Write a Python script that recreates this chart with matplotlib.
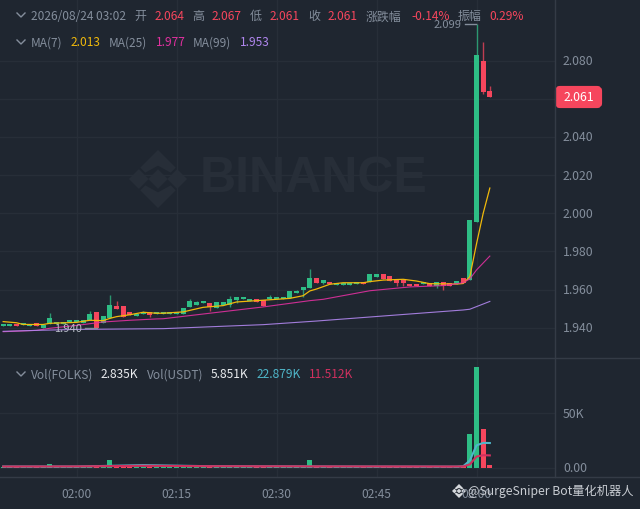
import numpy as np
import matplotlib
matplotlib.use('Agg')
import matplotlib.pyplot as plt
from matplotlib.patches import Polygon, FancyBboxPatch

plt.rcParams['font.family'] = ['Noto Sans CJK SC', 'DejaVu Sans']

# minutes counted from 02:00, one candle per minute
minutes = list(range(-11, 63))
opens = [1.9407, 1.9411, 1.9421, 1.9412, 1.9411, 1.9423, 1.9400, 1.9421, 1.9421, 1.9421, 1.9428,
         1.9428, 1.9426, 1.9440, 1.9481, 1.9425, 1.9453, 1.9512, 1.9512, 1.9482, 1.9463, 1.9470,
         1.9481, 1.9472, 1.9472, 1.9473, 1.9473, 1.9472, 1.9507, 1.9521, 1.9530, 1.9530, 1.9505,
         1.9521, 1.9517, 1.9545, 1.9551, 1.9538, 1.9551, 1.9545, 1.9549, 1.9549, 1.9549, 1.9554,
         1.9580, 1.9596, 1.9607, 1.9661, 1.9636, 1.9642, 1.9622, 1.9622, 1.9622, 1.9631, 1.9642,
         1.9640, 1.9668, 1.9682, 1.9671, 1.9650, 1.9650, 1.9631, 1.9631, 1.9629, 1.9633, 1.9617,
         1.9640, 1.9636, 1.9631, 1.9661, 1.9650, 1.9955, 2.0802, 2.0640]
closes = [1.9421, 1.9421, 1.9407, 1.9423, 1.9421, 1.9407, 1.9414, 1.9451, 1.9432, 1.9432, 1.9440,
          1.9440, 1.9439, 1.9472, 1.9400, 1.9461, 1.9521, 1.9496, 1.9458, 1.9467, 1.9472, 1.9481,
          1.9467, 1.9482, 1.9482, 1.9482, 1.9482, 1.9502, 1.9540, 1.9533, 1.9540, 1.9509, 1.9533,
          1.9533, 1.9549, 1.9561, 1.9561, 1.9549, 1.9537, 1.9516, 1.9561, 1.9561, 1.9561, 1.9591,
          1.9591, 1.9612, 1.9661, 1.9636, 1.9650, 1.9628, 1.9636, 1.9636, 1.9633, 1.9642, 1.9628,
          1.9682, 1.9682, 1.9656, 1.9647, 1.9635, 1.9633, 1.9617, 1.9617, 1.9640, 1.9617, 1.9640,
          1.9617, 1.9617, 1.9643, 1.9636, 1.9965, 2.0831, 2.0637, 2.0610]
highs = {-4: 1.9479, 2: 1.9489, 5: 1.9570, 6: 1.9538, 10: 1.9489, 17: 1.9551, 18: 1.9538, 23: 1.9568,
         29: 1.9570, 33: 1.9598, 35: 1.9708, 60: 2.0994, 61: 2.0900, 62: 2.0670}
lows = {3: 1.9400, 11: 1.9454, 20: 1.9489, 23: 1.9509, 24: 1.9531, 34: 1.9563, 37: 1.9628, 48: 1.9619,
        49: 1.9619, 54: 1.9608, 55: 1.9600, 61: 2.0627, 62: 2.0610}

ma7_x = [-11, -9, -8, -5, -4, 0, 2, 4, 5, 6, 8, 10, 12, 13, 16, 17, 19, 22, 24, 27, 30, 32, 34, 35,
         36, 38, 40, 43, 44, 46, 49, 51, 53, 57, 58, 59, 60, 61, 62]
ma7_y = [1.9432, 1.9426, 1.9417, 1.9417, 1.9423, 1.9428, 1.9439, 1.9437, 1.9449, 1.9458, 1.9468,
         1.9481, 1.9476, 1.9476, 1.9483, 1.9491, 1.9507, 1.9516, 1.9535, 1.9542, 1.9549, 1.9554,
         1.9568, 1.9593, 1.9603, 1.9628, 1.9636, 1.9636, 1.9642, 1.9650, 1.9654, 1.9645, 1.9631,
         1.9629, 1.9632, 1.9668, 1.9840, 2.0000, 2.0133]
ma25_x = [-11, -6, -4, 0, 4, 8, 12, 13, 20, 28, 35, 37, 44, 50, 55, 58, 59, 60, 62]
ma25_y = [1.9379, 1.9386, 1.9397, 1.9412, 1.9430, 1.9439, 1.9446, 1.9447, 1.9476, 1.9509, 1.9542,
          1.9549, 1.9594, 1.9614, 1.9621, 1.9636, 1.9656, 1.9703, 1.9776]
ma99_x = [-11, -6, 0, 13, 28, 36, 50, 58, 59, 62]
ma99_y = [1.9381, 1.9386, 1.9391, 1.9395, 1.9416, 1.9435, 1.9472, 1.9493, 1.9497, 1.9538]

# volume in thousands
volumes = [0.6, 0.5, 0.6, 0.7, 0.5, 0.6, 0.8, 3.9, 0.7, 0.6, 0.8, 0.7, 0.6, 1.2, 1.6, 1.4, 7.0, 1.8,
           1.5, 1.1, 0.8, 1.0, 0.6, 0.5, 0.6, 0.5, 0.6, 0.7, 1.3, 0.9, 0.7, 0.8, 0.7, 0.5, 1.1, 0.6,
           0.5, 0.5, 0.7, 0.8, 0.5, 0.6, 0.5, 0.9, 0.7, 1.0, 7.6, 1.8, 1.2, 1.1, 0.8, 0.8, 0.7, 0.9,
           0.8, 1.3, 0.9, 1.0, 0.8, 0.8, 0.7, 0.6, 0.6, 0.7, 0.6, 0.8, 0.7, 0.6, 0.9, 1.4, 31.0, 93.0,
           35.6, 2.835]
vol_ma5_x = [-11, 0, 10, 20, 40, 57, 58, 59, 60, 61, 62]
vol_ma5_y = [1.3, 1.3, 2.6, 1.6, 1.3, 1.2, 1.5, 6.8, 20.7, 23.0, 22.879]
vol_ma10_x = [-11, 0, 10, 20, 40, 57, 58, 59, 60, 61, 62]
vol_ma10_y = [1.3, 1.4, 2.0, 1.6, 1.4, 1.3, 1.4, 3.2, 10.5, 11.7, 11.512]

price_ticks = [1.94, 1.96, 1.98, 2.00, 2.02, 2.04, 2.06, 2.08]
price_labels = ['1.940', '1.960', '1.980', '2.000', '2.020', '2.040', '', '2.080']
time_ticks = [0, 15, 30, 45, 60]
time_labels = ['02:00', '02:15', '02:30', '02:45', '03:00']

BG = '#1f2630'
GRID = '#272e38'
EDGE = '#343b46'
GREY = '#848e9c'
GREEN = '#2ebd85'
RED = '#f6465d'
YELLOW = '#f0b90b'
MAGENTA = '#e0309f'
PURPLE = '#b086ee'
TEAL = '#4fb6c9'
VOLRED = '#d0305f'

W, H = 640, 509
fig = plt.figure(figsize=(W / 100, H / 100), dpi=100, facecolor=BG)


def px_axes(x0, y0, x1, y1):
    return fig.add_axes([x0 / W, 1 - y1 / H, (x1 - x0) / W, (y1 - y0) / H])


ax = px_axes(0, 0, 555, 358)
vol = px_axes(0, 358, 555, 477)
for a in (ax, vol):
    a.set_facecolor(BG)
    a.set_xlim(-11.475, 71.775)
    a.set_xticks(time_ticks)
    a.tick_params(length=0, labelbottom=False, labelleft=False)
    a.grid(True, color=GRID, linewidth=1)
    a.set_axisbelow(True)
    for s in a.spines.values():
        s.set_visible(False)

ax.set_ylim(1.9241, 2.1120)
ax.set_yticks(price_ticks)
vol.set_ylim(-8.3, 100.9)
vol.set_yticks([0, 50])

# candles
for m, o, c in zip(minutes, opens, closes):
    col = GREEN if c >= o else RED
    hi = highs.get(m, max(o, c))
    lo = lows.get(m, min(o, c))
    ax.vlines(m, lo, hi, color=col, linewidth=1, alpha=0.75, zorder=2)
    ax.bar(m, abs(c - o), bottom=min(o, c), width=0.72, color=col, linewidth=0, zorder=3)

ax.plot(ma7_x, ma7_y, color=YELLOW, linewidth=0.9, zorder=4)
ax.plot(ma25_x, ma25_y, color=MAGENTA, linewidth=0.8, alpha=0.9, zorder=4)
ax.plot(ma99_x, ma99_y, color=PURPLE, linewidth=0.8, alpha=0.9, zorder=4)

# high / low markers
ax.plot([58.2, 59.9], [2.0994, 2.0994], color=GREY, linewidth=1, zorder=5)
ax.text(57.8, 2.0990, '2.099', color=GREY, fontsize=8, ha='right', va='center', zorder=6)
ax.plot([1.3, 3.0], [1.9400, 1.9400], color=GREY, linewidth=1, zorder=5)
ax.text(0.75, 1.9395, '1.940', color='#b7bdc6', fontsize=8, ha='right', va='center', zorder=6)

# volume
for m, v, o, c in zip(minutes, volumes, opens, closes):
    vol.bar(m, v, width=0.72, color=GREEN if c >= o else RED, linewidth=0, zorder=2)
vol.plot(vol_ma5_x, vol_ma5_y, color=TEAL, linewidth=1.5, zorder=3)
vol.plot(vol_ma10_x, vol_ma10_y, color=VOLRED, linewidth=1.5, zorder=3)

# overlay in pixel space for the terminal chrome
ov = fig.add_axes([0, 0, 1, 1], zorder=10)
ov.set_xlim(0, W)
ov.set_ylim(H, 0)
ov.axis('off')
ov.patch.set_alpha(0)

ov.plot([0, W], [358, 358], color=EDGE, linewidth=1)
ov.plot([0, W], [477, 477], color=EDGE, linewidth=1)
ov.plot([555, 555], [0, 477], color=EDGE, linewidth=1)


def logo(cx, cy, r, color, alpha=1.0):
    t = 0.34 * r
    parts = [
        [(cx, cy - t), (cx + t, cy), (cx, cy + t), (cx - t, cy)],
        [(cx - r, cy), (cx - r + t, cy - t), (cx - r + 2 * t, cy), (cx - r + t, cy + t)],
        [(cx + r, cy), (cx + r - t, cy - t), (cx + r - 2 * t, cy), (cx + r - t, cy + t)],
        [(cx, cy - r), (cx + 1.5 * t + 0.1 * r, cy - r + 1.5 * t + 0.1 * r), (cx + t + 0.1 * r, cy - r + 2 * t + 0.1 * r),
         (cx, cy - r + t + 0.1 * r + 0.1 * r), (cx - t - 0.1 * r, cy - r + 2 * t + 0.1 * r), (cx - 1.5 * t - 0.1 * r, cy - r + 1.5 * t + 0.1 * r)],
        [(cx, cy + r), (cx + 1.5 * t + 0.1 * r, cy + r - 1.5 * t - 0.1 * r), (cx + t + 0.1 * r, cy + r - 2 * t - 0.1 * r),
         (cx, cy + r - t - 0.1 * r - 0.1 * r), (cx - t - 0.1 * r, cy + r - 2 * t - 0.1 * r), (cx - 1.5 * t - 0.1 * r, cy + r - 1.5 * t - 0.1 * r)],
    ]
    for p in parts:
        ov.add_patch(Polygon(p, closed=True, facecolor=color, edgecolor='none', alpha=alpha))


logo(158, 179, 29, '#272e38')
ov.text(200, 179, 'BINANCE', color='#272e38', fontsize=36, fontweight='bold', family='Liberation Sans',
        ha='left', va='center')


def chevron(cx, cy):
    ov.plot([cx - 4, cx, cx + 4], [cy - 2, cy + 2, cy - 2], color=GREY, linewidth=1)


def label(x, y, s, color=GREY, size=8.6, ha='left'):
    ov.text(x, y + 0.8, s, color=color, fontsize=size, ha=ha, va='center')


chevron(21, 15)
chevron(21, 42)
chevron(21, 374)

label(31, 16, '2026/08/24 03:02')
for x, s, color in [(134.5, '开', GREY), (154.5, '2.064', RED), (192, '高', GREY), (212, '2.067', RED),
                    (250, '低', GREY), (270, '2.061', RED), (308, '收', GREY), (328, '2.061', RED),
                    (366, '涨跌幅', GREY), (411, '-0.14%', RED), (458, '振幅', GREY), (489, '0.29%', RED)]:
    label(x, 16, s, color)
for x, s, color in [(31, 'MA(7)', GREY), (71, '2.013', YELLOW), (109, 'MA(25)', GREY), (156, '1.977', MAGENTA),
                    (193, 'MA(99)', GREY), (240, '1.953', PURPLE)]:
    label(x, 42, s, color)
for x, s, color in [(31, 'Vol(FOLKS)', GREY), (101, '2.835K', '#eaecef'), (147, 'Vol(USDT)', GREY),
                    (211, '5.851K', '#eaecef'), (257, '22.879K', TEAL), (309, '11.512K', VOLRED)]:
    label(x, 374, s, color)

# axis labels sit on top of the overlay, placed through the data transforms
for p, s in zip(price_ticks, price_labels):
    y = ax.transData.transform((0, p))[1]
    label(563, H - y, s, size=8.8)
for v, s in zip([50, 0], ['50K', '0.00']):
    y = vol.transData.transform((0, v))[1]
    label(563, H - y, s, size=8.8)
for m, s in zip(time_ticks, time_labels):
    x = ax.transData.transform((m, 0))[0]
    label(x, 494, s, size=8.6, ha='center')

# last price tag
ov.add_patch(FancyBboxPatch((557, 88), 43, 18, boxstyle='round,pad=0,rounding_size=3', facecolor=RED,
                            edgecolor=RED, linewidth=3))
label(578.5, 97, '2.061', color='white', size=8.8, ha='center')

# corner watermark
logo(459, 491, 7, '#d5d8dc')
ov.text(468, 491.5, '@SurgeSniper Bot量化机器人', color='#c8ccd2', fontsize=8.8, ha='left', va='center')

fig.savefig('out.png', dpi=100, facecolor=BG)
